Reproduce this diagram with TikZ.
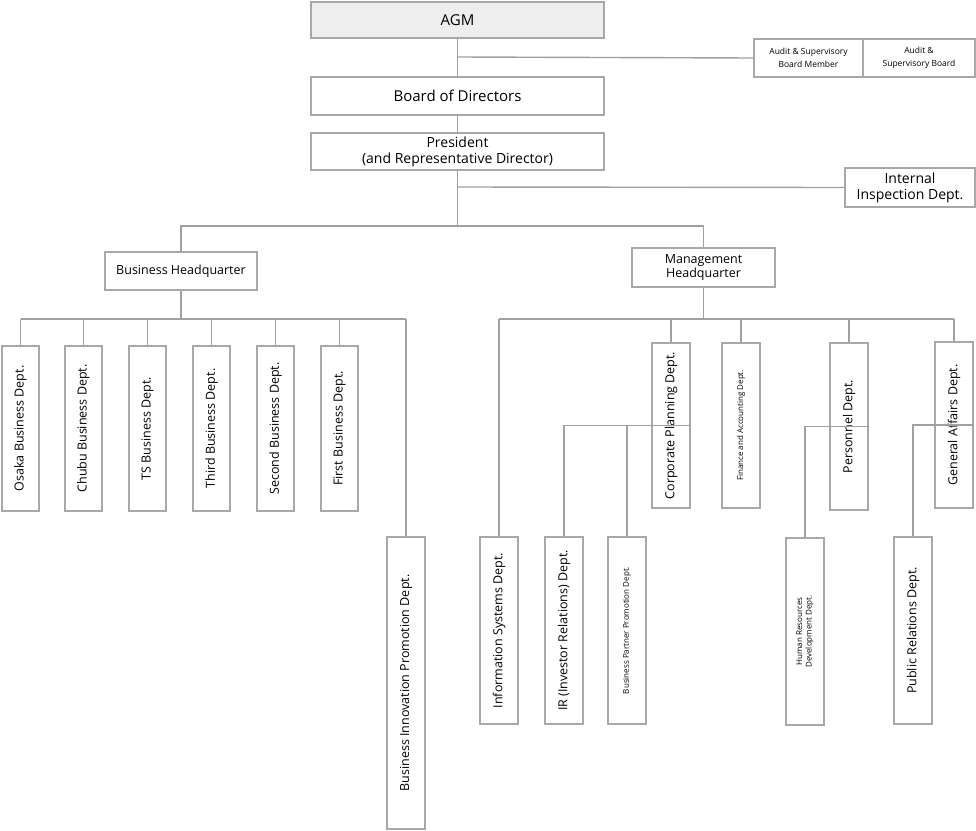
\documentclass[tikz,border=0pt]{standalone}
\usepackage{fontspec}
\setmainfont{Open Sans}
\definecolor{bd}{HTML}{A8A8A8}
\definecolor{ln}{HTML}{A0A0A0}
\definecolor{agmfill}{HTML}{EEEEEE}
\tikzset{
 box/.style={draw=bd,line width=1.6pt,inner sep=1pt,align=center,text=black,font=\fontsize{12.5}{14}\selectfont},
 vbox/.style={box,rotate=90},
 small/.style={font=\fontsize{8.5}{13}\selectfont},
 tiny/.style={font=\fontsize{8}{9.5}\selectfont},
 big/.style={font=\fontsize{15}{17}\selectfont},
 conn/.style={draw=ln,line width=1.4pt},
}
\newcommand{\hb}[6][]{\node[box,#1,minimum width=#4pt,minimum height=#5pt] (#2) at (#3) {#6};}
\newcommand{\vb}[6][]{\node[vbox,#1,minimum width=#5pt,minimum height=#4pt] (#2) at (#3) {#6};}
\begin{document}
\begin{tikzpicture}[x=1pt,y=-1pt]
\useasboundingbox (0,0) rectangle (976,830);
% top
\hb[big,fill=agmfill]{agm}{457.5,20}{293}{36}{AGM}
\hb[small]{asbm}{808.5,58}{109}{38}{Audit \& Supervisory\\Board Member}
\hb[small]{asb}{919,58}{112}{38}{Audit \&\\Supervisory Board}
\hb[big]{bod}{457.5,96}{293}{38}{Board of Directors}
\hb[font=\fontsize{14}{16}\selectfont]{pres}{457.5,151.5}{293}{37}{President\\(and Representative Director)}
\hb[font=\fontsize{14}{16}\selectfont]{iid}{910,187.5}{130}{39}{Internal\\Inspection Dept.}
\hb{bhq}{181,271}{152}{38}{Business Headquarter}
\hb{mhq}{703.5,267.5}{143}{39}{Management\\Headquarter}
% left depts
\vb{osaka}{20.5,428.5}{37}{165}{Osaka Business Dept.}
\vb{chubu}{83.5,428.5}{37}{165}{Chubu Business Dept.}
\vb{ts}{147.5,428.5}{37}{165}{TS Business Dept.}
\vb{third}{211.5,428.5}{37}{165}{Third Business Dept.}
\vb{second}{275.5,428.5}{37}{165}{Second Business Dept.}
\vb{first}{339.5,428.5}{37}{165}{First Business Dept.}
\vb{bii}{406,683}{38}{292}{Business Innovation Promotion Dept.}
% right depts
\vb{isd}{499,630.5}{38}{187}{Information Systems Dept.}
\vb{cpd}{671,425.5}{38}{165}{Corporate Planning Dept.}
\vb[tiny]{fad}{741,425.5}{38}{165}{Finance and Accounting Dept.}
\vb{pers}{849,426.5}{38}{167}{Personnel Dept.}
\vb{gad}{954,425}{38}{166}{General Affairs Dept.}
\vb{ir}{564,630.5}{38}{187}{IR (Investor Relations) Dept.}
\vb[tiny]{bpp}{627,630.5}{38}{187}{Business Partner Promotion Dept.}
\vb[tiny]{hrd}{805,631.5}{38}{187}{Human Resources\\Development Dept.}
\vb{prd}{913,630.5}{38}{187}{Public Relations Dept.}
% coordinates
\coordinate (y57) at (0,57);
\coordinate (y187) at (0,187);
\coordinate (y226) at (0,226);
\coordinate (y319) at (0,319);
\coordinate (y427) at (0,427);
% connectors
\draw[conn] (agm.south) -- (bod.north);
\draw[conn] (agm.south |- y57) -- (asbm.west);
\draw[conn] (bod.south) -- (pres.north);
\draw[conn] (pres.south) -- (pres.south |- y226);
\draw[conn] (pres.south |- y187) -- (iid.west);
\draw[conn] (bhq.north) -- (bhq.north |- y226) -- (mhq.north |- y226) -- (mhq.north);
\draw[conn] (bhq.south) -- (bhq.south |- y319);
\draw[conn] (osaka.east |- y319) -- (bii.east |- y319);
\foreach \n in {osaka,chubu,ts,third,second,first,bii}
  \draw[conn] (\n.east) -- (\n.east |- y319);
\draw[conn] (mhq.south) -- (mhq.south |- y319);
\draw[conn] (isd.east |- y319) -- (gad.east |- y319);
\foreach \n in {isd,cpd,fad,pers,gad}
  \draw[conn] (\n.east) -- (\n.east |- y319);
\draw[conn] (cpd.south) -- (ir.east |- cpd.south) -- (ir.east);
\draw[conn] (bpp.east) -- (bpp.east |- cpd.south);
\draw[conn] (pers.south) -- (hrd.east |- pers.south) -- (hrd.east);
\draw[conn] (gad.south) -- (prd.east |- gad.south) -- (prd.east);
\end{tikzpicture}
\end{document}
